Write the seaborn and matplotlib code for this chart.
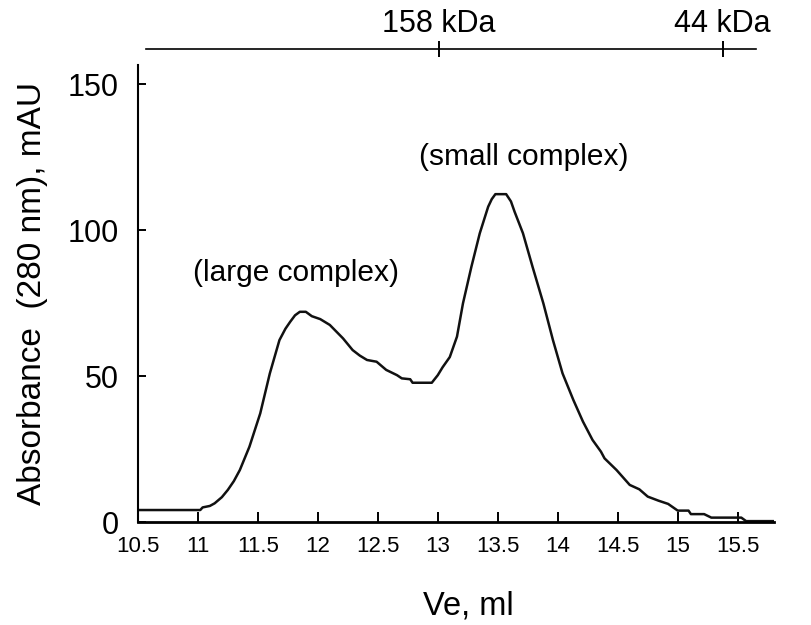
import matplotlib
matplotlib.use('Agg')
import matplotlib.pyplot as plt
import seaborn as sns
import pandas as pd

# elution profile
ve = [10.50, 11.02, 11.04, 11.10, 11.14, 11.20, 11.25, 11.30, 11.35, 11.43, 11.52,
      11.60, 11.68, 11.73, 11.77, 11.81, 11.85, 11.90, 11.95, 12.02, 12.10, 12.21, 12.29,
      12.35, 12.41, 12.49, 12.57, 12.66, 12.70, 12.77, 12.79, 12.95, 13.00,
      13.04, 13.10, 13.16, 13.21, 13.28, 13.35, 13.42, 13.45, 13.48, 13.57, 13.61, 13.64,
      13.71, 13.79, 13.88, 13.96, 14.04, 14.13, 14.21, 14.29, 14.36, 14.39,
      14.49, 14.60, 14.68, 14.75, 14.84, 14.92, 15.00, 15.09, 15.11, 15.22,
      15.28, 15.53, 15.57, 15.80]
absorbance = [4.1, 4.1, 5.0, 5.5, 6.4, 8.5, 11.0, 14.0, 17.8, 25.8, 37.2,
              50.9, 62.3, 66.2, 68.6, 70.8, 72.0, 72.0, 70.5, 69.5, 67.5, 62.9, 58.9,
              57.0, 55.5, 54.9, 52.1, 50.3, 49.2, 48.9, 47.7, 47.7, 50.3,
              53.0, 56.5, 63.5, 74.9, 87.4, 98.9, 108.0, 110.6, 112.3, 112.3, 109.8, 106.3,
              98.9, 87.4, 74.9, 62.3, 50.9, 41.8, 34.4, 28.1, 24.1, 21.8,
              17.8, 12.7, 11.2, 8.7, 7.3, 6.2, 3.9, 3.9, 2.7, 2.7,
              1.5, 1.5, 0.3, 0.3]

x_ticks = [10.5, 11, 11.5, 12, 12.5, 13, 13.5, 14, 14.5, 15, 15.5]
x_labels = ['10.5', '11', '11.5', '12', '12.5', '13', '13.5', '14', '14.5', '15', '15.5']
y_ticks = [0, 50, 100, 150]

# calibration standards (elution volume -> label)
marker_ve = [13.01, 15.375]
marker_labels = ['158 kDa', '44 kDa']
marker_span = [10.57, 15.65]

peak_labels = ['(large complex)', '(small complex)']
peak_pos = [(11.82, 85.3), (13.72, 125.0)]

sns.set_style('ticks')
plt.rcParams['font.family'] = ['Liberation Sans', 'DejaVu Sans']
plt.rcParams['text.color'] = 'black'
plt.rcParams['axes.labelcolor'] = 'black'
plt.rcParams['xtick.color'] = 'black'
plt.rcParams['ytick.color'] = 'black'

df = pd.DataFrame({'Ve': ve, 'A280': absorbance})

fig = plt.figure(figsize=(8.11, 6.25), dpi=100)
ax = fig.add_axes([0.170, 0.1648, 0.784, 0.731])

sns.lineplot(data=df, x='Ve', y='A280', ax=ax, color='#111111', linewidth=1.8)

ax.set_xlim(10.5, 15.8)
ax.set_ylim(0, 156.5)
ax.set_xticks(x_ticks)
ax.set_xticklabels(x_labels)
ax.set_yticks(y_ticks)
ax.tick_params(axis='x', direction='in', length=7, width=1.4, labelsize=16, pad=10)
ax.tick_params(axis='y', direction='in', length=6, width=1.4, labelsize=22, pad=14)
for side in ['top', 'right']:
    ax.spines[side].set_visible(False)
ax.spines['left'].set_linewidth(1.5)
ax.spines['bottom'].set_linewidth(2.0)
ax.spines['left'].set_color('black')
ax.spines['bottom'].set_color('black')

ax.set_xlabel('Ve, ml', fontsize=23.5, labelpad=24)
ax.xaxis.label.set_x(0.52)
ax.set_ylabel('Absorbance  (280 nm), mAU', fontsize=24, labelpad=14)

for txt, (px, py) in zip(peak_labels, peak_pos):
    ax.text(px, py, txt, fontsize=21.5, ha='center', va='center')

# molecular weight marker scale above the plot
top = ax.twiny()
top.set_xlim(ax.get_xlim())
for side in ['left', 'right', 'bottom']:
    top.spines[side].set_visible(False)
top.spines['top'].set_position(('outward', 11.5))
top.spines['top'].set_bounds(marker_span[0], marker_span[1])
top.spines['top'].set_linewidth(1.2)
top.spines['top'].set_color('black')
top.set_xticks(marker_ve)
top.set_xticklabels(marker_labels)
top.tick_params(axis='x', direction='inout', length=11, width=1.4, labelsize=22, pad=2)

fig.savefig('out.png', dpi=100)
